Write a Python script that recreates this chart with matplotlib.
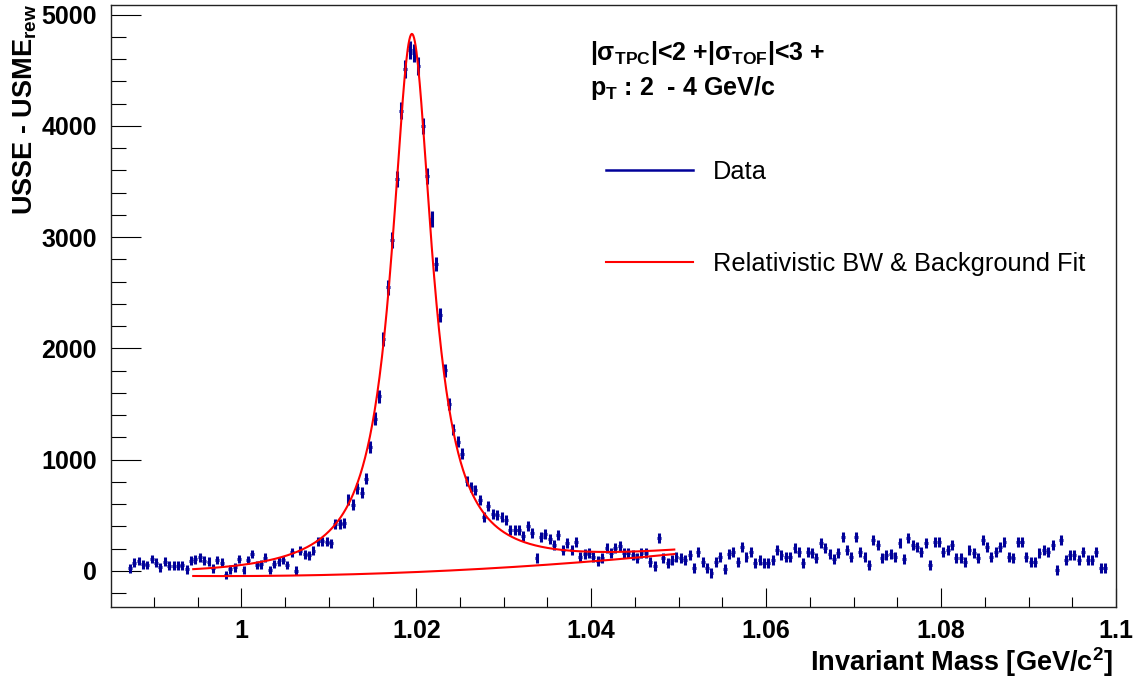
import matplotlib
matplotlib.use("Agg")
import matplotlib.pyplot as plt
from matplotlib.lines import Line2D
from matplotlib.ticker import MultipleLocator, FuncFormatter
import numpy as np

plt.rcParams['font.family'] = ['Liberation Sans', 'DejaVu Sans']
plt.rcParams['mathtext.fontset'] = 'custom'
plt.rcParams['mathtext.rm'] = 'Liberation Sans'
plt.rcParams['mathtext.bf'] = 'Liberation Sans:bold'
plt.rcParams['mathtext.it'] = 'Liberation Sans:italic'

# histogram binning (GeV/c^2)
mass_lo = 0.987
bin_width = 0.0005

# USSE - USME_rew per bin
counts = [
    24, 75, 90, 60, 54, 108, 75, 33, 84, 48,
    48, 48, 51, 15, 93, 105, 123, 93, 84, 24,
    99, 75, -36, 15, 33, 108, 9, 99, 152, 54,
    60, 120, 9, 63, 84, 99, 54, 168, 3, 182,
    152, 143, 182, 269, 269, 263, 248, 419, 425, 430,
    645, 595, 745,
    702, 831, 1115, 1370, 1570, 2087, 2550, 2975, 3522, 4135,
    4509, 4680, 4658, 4539, 4000, 3552, 3164, 2760, 2300, 1803,
    1504, 1271, 1160, 1055, 808, 756,
    727, 637, 482, 583, 511, 502, 487, 457, 368, 368,
    368, 314, 404, 338, 114, 308, 332, 284, 233, 323,
    188, 248, 188, 263, 128, 152, 159, 128, 92, 114,
    204, 159, 204, 224, 164, 159, 144, 114, 159, 159,
    84, 45, 293, 114, 75, 99, 128, 114, 99, 144,
    24, 173,
    84, 24, -15, 84, 129, 15, 152, 173, 84, 218,
    129, 173, 69, 99, 69, 69, 99, 188, 144, 129,
    123, 203, 173, 75, 173, 158, 114, 254, 203, 152,
    105, 158, 308, 188, 129, 308, 173, 129, 54, 278,
    233, 114, 144, 152, 123, 248, 105, 293,
    233, 218, 173, 248, 54, 263, 263, 173, 188, 233,
    114, 114, 84, 188, 158, 114, 278, 218, 129, 173,
    218, 263, 129, 114, 263, 263, 129, 84, 84, 158,
    188, 173, 233, 9, 278, 99, 144, 144, 99, 173,
    99, 99, 173, 24, 24,
]

# statistical error per bin
errors = [
    38, 38, 38, 38, 38, 38, 38, 38, 38, 38,
    38, 38, 38, 38, 38, 38, 38, 38, 38, 38,
    38, 38, 38, 38, 38, 38, 38, 38, 38, 38,
    40, 40, 40, 40, 40, 40, 40, 40, 40, 40,
    40, 40, 40, 40, 40, 40, 40, 45, 45, 45,
    48, 48, 50, 50, 52, 55, 58, 60, 62, 65,
    68, 72, 76, 80, 82, 82, 80, 76, 72, 70,
    66, 62, 58, 55, 52, 50, 50, 48, 48, 47,
    47, 46, 46, 46, 45, 45, 45, 45, 45, 45,
    45, 45, 45, 45, 45, 45, 45, 45, 45, 45,
    45, 45, 45, 45, 45, 45, 45, 45, 45, 45,
    45, 45, 45, 45, 45, 45, 45, 45, 45, 45,
    45, 45, 45, 45, 45, 45, 45, 45, 45, 45,
    45, 45, 45, 45, 45, 45, 45, 45, 45, 45,
    45, 45, 45, 45, 45, 45, 45, 45, 45, 45,
    45, 45, 45, 45, 45, 45, 45, 45, 45, 45,
    45, 45, 45, 45, 45, 45, 45, 45, 45, 45,
    45, 45, 45, 45, 45, 45, 45, 45, 45, 45,
    45, 45, 45, 45, 45, 45, 45, 45, 45, 45,
    45, 45, 45, 45, 45, 45, 45, 45, 45, 45,
    45, 45, 45, 45, 45, 45, 45, 45, 45, 45,
    45, 45, 45, 45, 45, 45, 45, 45, 45, 45,
    45, 45, 45, 45,
]

# fit result: relativistic BW + pol2 background
fit_range = (0.9945, 1.0495)
bw_amp = 4839.0
bw_mass = 1.0195
bw_width = 0.0056
bkg_ref = 1.02
bkg_pars = (-9.4, 3290.0, 74220.0)

centers = mass_lo + bin_width * (np.arange(len(counts)) + 0.5)


def background(m):
    d = m - bkg_ref
    return bkg_pars[0] + bkg_pars[1] * d + bkg_pars[2] * d ** 2


def bw_plus_bkg(m):
    mg2 = (bw_mass * bw_width) ** 2
    sig = bw_amp * mg2 / ((m ** 2 - bw_mass ** 2) ** 2 + mg2)
    return sig + background(m)


blue = '#000099'
red = '#ff0000'

fig = plt.figure(figsize=(11.37, 6.82), dpi=100)
ax = fig.add_axes([111 / 1137, 1 - 606.7 / 682, 1005 / 1137, 602 / 682])

ax.errorbar(centers, counts, xerr=0.00022, yerr=errors, fmt='none',
            ecolor=blue, elinewidth=2.2, capsize=0, zorder=3)

mm = np.linspace(fit_range[0], fit_range[1], 600)
ax.plot(mm, bw_plus_bkg(mm), color=red, lw=1.5, zorder=4)
ax.plot(mm, background(mm), color=red, lw=1.5, zorder=4)

ax.set_xlim(0.9851, 1.1)
ax.set_ylim(-321, 5090)

ax.xaxis.set_major_locator(MultipleLocator(0.02))
ax.xaxis.set_minor_locator(MultipleLocator(0.005))
ax.yaxis.set_major_locator(MultipleLocator(1000))
ax.yaxis.set_minor_locator(MultipleLocator(200))
ax.xaxis.set_major_formatter(FuncFormatter(lambda v, _: f'{v:g}'))

ax.tick_params(axis='x', which='major', direction='in', length=13.5, width=0.8, pad=9)
ax.tick_params(axis='x', which='minor', direction='in', length=7, width=0.8)
ax.tick_params(axis='y', which='major', direction='in', length=21.5, width=0.8, pad=10)
ax.tick_params(axis='y', which='minor', direction='in', length=11, width=0.8)
for lab in ax.get_xticklabels() + ax.get_yticklabels():
    lab.set_fontsize(18)
    lab.set_fontweight('bold')
for sp in ax.spines.values():
    sp.set_linewidth(1.0)
    sp.set_color('#222222')

fig.text(1113 / 1137, 1 - 662 / 682, r'Invariant Mass [GeV/c$^{\mathbf{2}}$]',
         ha='right', va='center', fontsize=19.5, fontweight='bold')
fig.text(25 / 1137, 1 - 4 / 682, r'USSE - USME$_{\mathbf{rew}}$',
         rotation=90, ha='center', va='top', fontsize=19.5, fontweight='bold')

fig.text(590 / 1137, 1 - 53 / 682, r'|σ$_{\mathbf{TPC}}$|<2 +|σ$_{\mathbf{TOF}}$|<3 +',
         ha='left', va='center', fontsize=18, fontweight='bold')
fig.text(590 / 1137, 1 - 88 / 682, r'p$_{\mathbf{T}}$ : 2  - 4 GeV/c',
         ha='left', va='center', fontsize=18, fontweight='bold')

handles = [Line2D([], [], color=blue, lw=1.8), Line2D([], [], color=red, lw=1.5)]
ax.legend(handles, ['Data', 'Relativistic BW & Background Fit'],
          loc='upper left', bbox_to_anchor=(606 / 1137, 1 - 160 / 682),
          bbox_transform=fig.transFigure, frameon=False, fontsize=18.3,
          handlelength=3.42, handletextpad=0.79, labelspacing=2.69,
          borderpad=0, borderaxespad=0)

fig.savefig('out.png', dpi=100)
